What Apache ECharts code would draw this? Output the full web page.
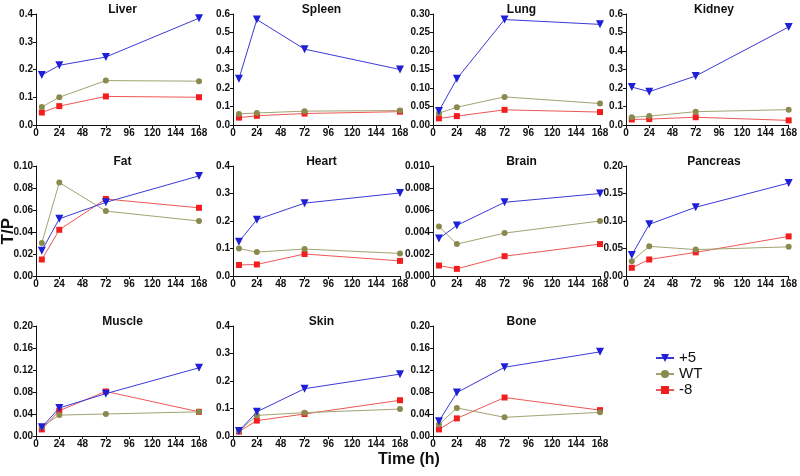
<!DOCTYPE html>
<html>
<head>
<meta charset="utf-8">
<script src="https://cdn.jsdelivr.net/npm/echarts@6/dist/echarts.min.js"></script>
<style>
html, body { margin: 0; padding: 0; background: #fff; }
#main { width: 800px; height: 476px; }
</style>
</head>
<body>
<div id="main"></div>
<script>
var hours = [6, 24, 72, 168];
var xTicks = [0, 24, 48, 72, 96, 120, 144, 168];
var groups = ['+5', 'WT', '-8'];

var tissues = ['Liver', 'Spleen', 'Lung', 'Kidney', 'Fat', 'Heart', 'Brain', 'Pancreas', 'Muscle', 'Skin', 'Bone'];

// T/P values per tissue, order: 6h, 24h, 72h, 168h
var plus5 = {
    Liver:    [0.180, 0.215, 0.245, 0.385],
    Spleen:   [0.250, 0.570, 0.410, 0.300],
    Lung:     [0.038, 0.125, 0.285, 0.272],
    Kidney:   [0.205, 0.180, 0.265, 0.530],
    Fat:      [0.023, 0.052, 0.067, 0.091],
    Heart:    [0.125, 0.205, 0.265, 0.302],
    Brain:    [0.0034, 0.0046, 0.0067, 0.0075],
    Pancreas: [0.038, 0.094, 0.125, 0.169],
    Muscle:   [0.016, 0.051, 0.077, 0.124],
    Skin:     [0.018, 0.088, 0.172, 0.225],
    Bone:     [0.027, 0.079, 0.125, 0.153]
};
var wt = {
    Liver:    [0.065, 0.100, 0.160, 0.158],
    Spleen:   [0.060, 0.065, 0.075, 0.078],
    Lung:     [0.032, 0.048, 0.076, 0.058],
    Kidney:   [0.042, 0.048, 0.072, 0.083],
    Fat:      [0.030, 0.085, 0.059, 0.050],
    Heart:    [0.100, 0.087, 0.098, 0.082],
    Brain:    [0.0045, 0.0029, 0.0039, 0.0050],
    Pancreas: [0.027, 0.054, 0.048, 0.053],
    Muscle:   [0.017, 0.038, 0.040, 0.044],
    Skin:     [0.018, 0.075, 0.085, 0.098],
    Bone:     [0.021, 0.051, 0.034, 0.043]
};
var minus8 = {
    Liver:    [0.045, 0.068, 0.103, 0.100],
    Spleen:   [0.040, 0.050, 0.062, 0.072],
    Lung:     [0.018, 0.024, 0.041, 0.035],
    Kidney:   [0.030, 0.032, 0.042, 0.025],
    Fat:      [0.015, 0.042, 0.070, 0.062],
    Heart:    [0.040, 0.042, 0.080, 0.055],
    Brain:    [0.00095, 0.00065, 0.0018, 0.0029],
    Pancreas: [0.015, 0.030, 0.043, 0.072],
    Muscle:   [0.012, 0.046, 0.081, 0.044],
    Skin:     [0.016, 0.056, 0.080, 0.130],
    Bone:     [0.012, 0.032, 0.070, 0.047]
};

// y axis max, interval, decimals
var yMax =      [0.4, 0.6, 0.30, 0.6, 0.10, 0.4, 0.010, 0.20, 0.20, 0.4, 0.20];
var yStep =     [0.1, 0.1, 0.05, 0.1, 0.02, 0.1, 0.002, 0.05, 0.04, 0.1, 0.04];
var yDecimals = [1, 1, 2, 1, 2, 1, 3, 2, 2, 1, 2];

var colLeft = [36, 233, 433, 626];
var colWidth = [163, 167, 167, 166];
var rowTop = [14, 166, 326];
var rowHeight = [111, 110, 110];

var colors = ['#1f1fd6', '#8a8a4e', '#f01e1e'];
var symbols = ['triangle', 'circle', 'rect'];
var symbolSizes = [8, 6, 6];
var lineColors = ['#3a3ad8', '#a3a372', '#ef5656'];
var sets = [plus5, wt, minus8];

var font = 'Liberation Sans, Arial, sans-serif';

var grids = [], xAxes = [], yAxes = [], series = [], titles = [];

tissues.forEach(function (name, i) {
    var r = Math.floor(i / 4), c = i % 4;
    grids.push({ left: colLeft[c], top: rowTop[r], width: colWidth[c], height: rowHeight[r] });
    titles.push({
        text: name,
        left: colLeft[c] + colWidth[c] / 2,
        top: rowTop[r] - 15,
        textAlign: 'center',
        textStyle: { fontFamily: font, fontSize: 12, fontWeight: 'bold', color: '#111' }
    });
    xAxes.push({
        type: 'value', gridIndex: i, min: 0, max: 168, interval: 24,
        axisLine: { lineStyle: { color: '#111', width: 1 } },
        axisTick: { show: true, length: 3, lineStyle: { color: '#111' } },
        axisLabel: { fontFamily: font, fontSize: 10, fontWeight: 'bold', color: '#111', margin: 3 },
        splitLine: { show: false }
    });
    var d = yDecimals[i];
    yAxes.push({
        type: 'value', gridIndex: i, min: 0, max: yMax[i], interval: yStep[i],
        axisLine: { show: true, lineStyle: { color: '#111', width: 1 } },
        axisTick: { show: true, length: 3, lineStyle: { color: '#111' } },
        axisLabel: {
            fontFamily: font, fontSize: 10, fontWeight: 'bold', color: '#111', margin: 3,
            formatter: function (v) { return v.toFixed(d); }
        },
        splitLine: { show: false }
    });
    for (var g = 0; g < 3; g++) {
        var vals = sets[g][name];
        series.push({
            name: groups[g],
            type: 'line',
            xAxisIndex: i, yAxisIndex: i,
            data: hours.map(function (h, k) { return [h, vals[k]]; }),
            symbol: symbols[g],
            symbolSize: symbolSizes[g],
            symbolRotate: g === 0 ? 180 : 0,
            showAllSymbol: true,
            itemStyle: { color: colors[g] },
            lineStyle: { color: lineColors[g], width: 1 },
            z: 3 - g,
            animation: false
        });
    }
});

var option = {
    backgroundColor: '#fff',
    animation: false,
    title: titles,
    grid: grids,
    xAxis: xAxes,
    yAxis: yAxes,
    series: series,
    legend: {
        data: groups,
        orient: 'vertical',
        left: 650,
        top: 345,
        itemWidth: 18,
        itemHeight: 10,
        itemGap: 0,
        textStyle: { fontFamily: font, fontSize: 15, lineHeight: 16, color: '#111' }
    },
    graphic: [
        {
            type: 'text', left: 0, top: 218, rotation: Math.PI / 2,
            style: { text: 'T/P', font: 'bold 17px Liberation Sans, Arial, sans-serif', fill: '#111' }
        },
        {
            type: 'text', left: 378, top: 452,
            style: { text: 'Time (h)', font: 'bold 16px Liberation Sans, Arial, sans-serif', fill: '#111' }
        }
    ]
};

var chart = echarts.init(document.getElementById('main'));
chart.setOption(option);
</script>
</body>
</html>
